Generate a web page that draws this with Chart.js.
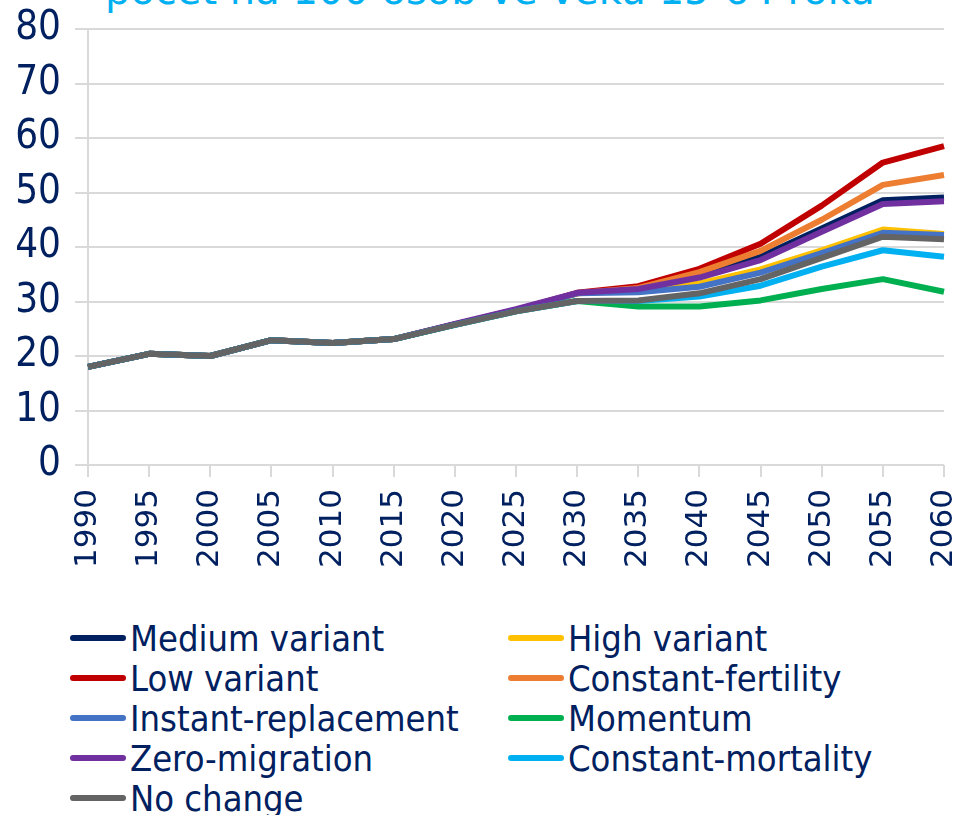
<!DOCTYPE html>
<html>
<head>
<meta charset="utf-8">
<script src="https://cdn.jsdelivr.net/npm/chart.js@4"></script>
<style>
  html, body { margin: 0; padding: 0; background: #fff; overflow: hidden; }
  body { width: 962px; height: 815px; position: relative; }
  #title {
    position: absolute; left: 105px; top: -30px;
    font: 40px "DejaVu Sans", sans-serif; line-height: 40px;
    color: #00B0F0; white-space: nowrap;
  }
  #wrap { position: absolute; left: 0; top: 0; width: 962px; height: 590px; }
  #legend { position: absolute; left: 0; top: 0; width: 962px; }
  .item {
    position: absolute; height: 40px; display: flex; align-items: center;
    font: 36px "DejaVu Sans Condensed", "Liberation Sans Narrow", sans-serif;
    color: #002060; white-space: nowrap;
  }
  .swatch { width: 56px; height: 6px; border-radius: 3px; margin-right: 4px; }
</style>
</head>
<body>
<div id="title">počet na 100 osob ve věku 15-64 roků</div>
<div id="wrap"><canvas id="chart"></canvas></div>
<div id="legend"></div>

<script>
/* ================= DATA ================= */
const years = ["1990", "1995", "2000", "2005", "2010", "2015", "2020", "2025", "2030", "2035", "2040", "2045", "2050", "2055", "2060"];

const mediumVariant      = [18.0, 20.4, 20.0, 22.9, 22.4, 23.1, 25.8, 28.4, 31.5, 32.3, 34.8, 38.2, 43.4, 48.6, 49.1];
const highVariant        = [18.0, 20.4, 20.0, 22.9, 22.4, 23.1, 25.8, 28.4, 31.5, 32.0, 33.3, 35.9, 39.4, 43.2, 42.4];
const lowVariant         = [18.0, 20.4, 20.0, 22.9, 22.4, 23.1, 25.8, 28.4, 31.6, 32.8, 36.0, 40.6, 47.6, 55.5, 58.5];
const constantFertility  = [18.0, 20.4, 20.0, 22.9, 22.4, 23.1, 25.8, 28.4, 31.5, 32.5, 35.4, 39.3, 45.0, 51.4, 53.2];
const instantReplacement = [18.0, 20.4, 20.0, 22.9, 22.4, 23.1, 25.8, 28.4, 31.5, 31.7, 32.7, 35.3, 38.9, 42.6, 42.2];
const momentum           = [18.0, 20.4, 20.0, 22.9, 22.4, 23.1, 25.7, 28.2, 30.1, 29.1, 29.1, 30.2, 32.3, 34.1, 31.8];
const zeroMigration      = [18.0, 20.4, 20.0, 22.9, 22.4, 23.1, 25.9, 28.6, 31.6, 32.3, 34.4, 37.6, 42.8, 47.9, 48.4];
const constantMortality  = [18.0, 20.4, 20.0, 22.9, 22.4, 23.1, 25.7, 28.2, 30.1, 30.1, 30.9, 32.9, 36.4, 39.4, 38.2];
const noChange           = [18.0, 20.4, 20.0, 22.9, 22.4, 23.1, 25.7, 28.2, 30.1, 30.2, 31.5, 34.1, 38.0, 41.9, 41.4];

const seriesNames  = ["Medium variant", "High variant", "Low variant", "Constant-fertility", "Instant-replacement", "Momentum", "Zero-migration", "Constant-mortality", "No change"];
const seriesValues = [mediumVariant, highVariant, lowVariant, constantFertility, instantReplacement, momentum, zeroMigration, constantMortality, noChange];
const seriesColors = ["#002060", "#FFC000", "#C00000", "#ED7D31", "#4472C4", "#00B050", "#7030A0", "#00B0F0", "#646464"];

const yTicks = [0, 10, 20, 30, 40, 50, 60, 70, 80];

/* ================= CHART ================= */
const navy = "#002060";
const gridGray = "#d9d9d9";

const datasets = seriesNames.map((name, i) => ({
    label: name,
    data: seriesValues[i],
    borderColor: seriesColors[i],
    backgroundColor: seriesColors[i],
    borderWidth: 6,
    pointRadius: 0,
    tension: 0,
    fill: false,
    borderJoinStyle: "round",
    order: seriesNames.length - i   // later series drawn on top, as in the original
}));

new Chart(document.getElementById("chart"), {
    type: "line",
    data: { labels: years, datasets: datasets },
    options: {
        responsive: true,
        maintainAspectRatio: false,
        animation: false,
        layout: { padding: { top: 29, right: 18, bottom: 0, left: 0 } },
        plugins: {
            legend: { display: false },
            title: { display: false },
            tooltip: { enabled: false }
        },
        scales: {
            x: {
                offset: false,
                grid: {
                    drawOnChartArea: false,
                    drawTicks: true,
                    tickLength: 12,
                    color: gridGray,
                    lineWidth: 2
                },
                border: { display: false },
                ticks: {
                    color: navy,
                    font: { family: "DejaVu Sans", size: 31 },
                    minRotation: 90,
                    maxRotation: 90,
                    autoSkip: false,
                    padding: 12
                },
                afterFit: s => {
                    s.height = 125;
                    s.paddingLeft = 0;
                    s.paddingRight = 0;
                }
            },
            y: {
                min: 0,
                max: 80,
                afterBuildTicks: s => { s.ticks = yTicks.map(v => ({ value: v })); },
                grid: {
                    color: gridGray,
                    lineWidth: 2,
                    tickLength: 13
                },
                border: { display: true, color: gridGray, width: 2 },
                ticks: {
                    color: navy,
                    font: { family: "DejaVu Sans Condensed", size: 40 },
                    padding: 14
                },
                afterFit: s => {
                    s.width = 88;
                    s.paddingTop = 0;
                    s.paddingBottom = 0;
                }
            }
        }
    }
});

/* ================= LEGEND ================= */
const legendBox = document.getElementById("legend");
const colLeft = [70, 508];
seriesNames.forEach((name, i) => {
    const item = document.createElement("div");
    item.className = "item";
    item.style.left = colLeft[i % 2] + "px";
    item.style.top = (618 + Math.floor(i / 2) * 40) + "px";
    const sw = document.createElement("span");
    sw.className = "swatch";
    sw.style.background = seriesColors[i];
    item.appendChild(sw);
    item.appendChild(document.createTextNode(name));
    legendBox.appendChild(item);
});
</script>
</body>
</html>
